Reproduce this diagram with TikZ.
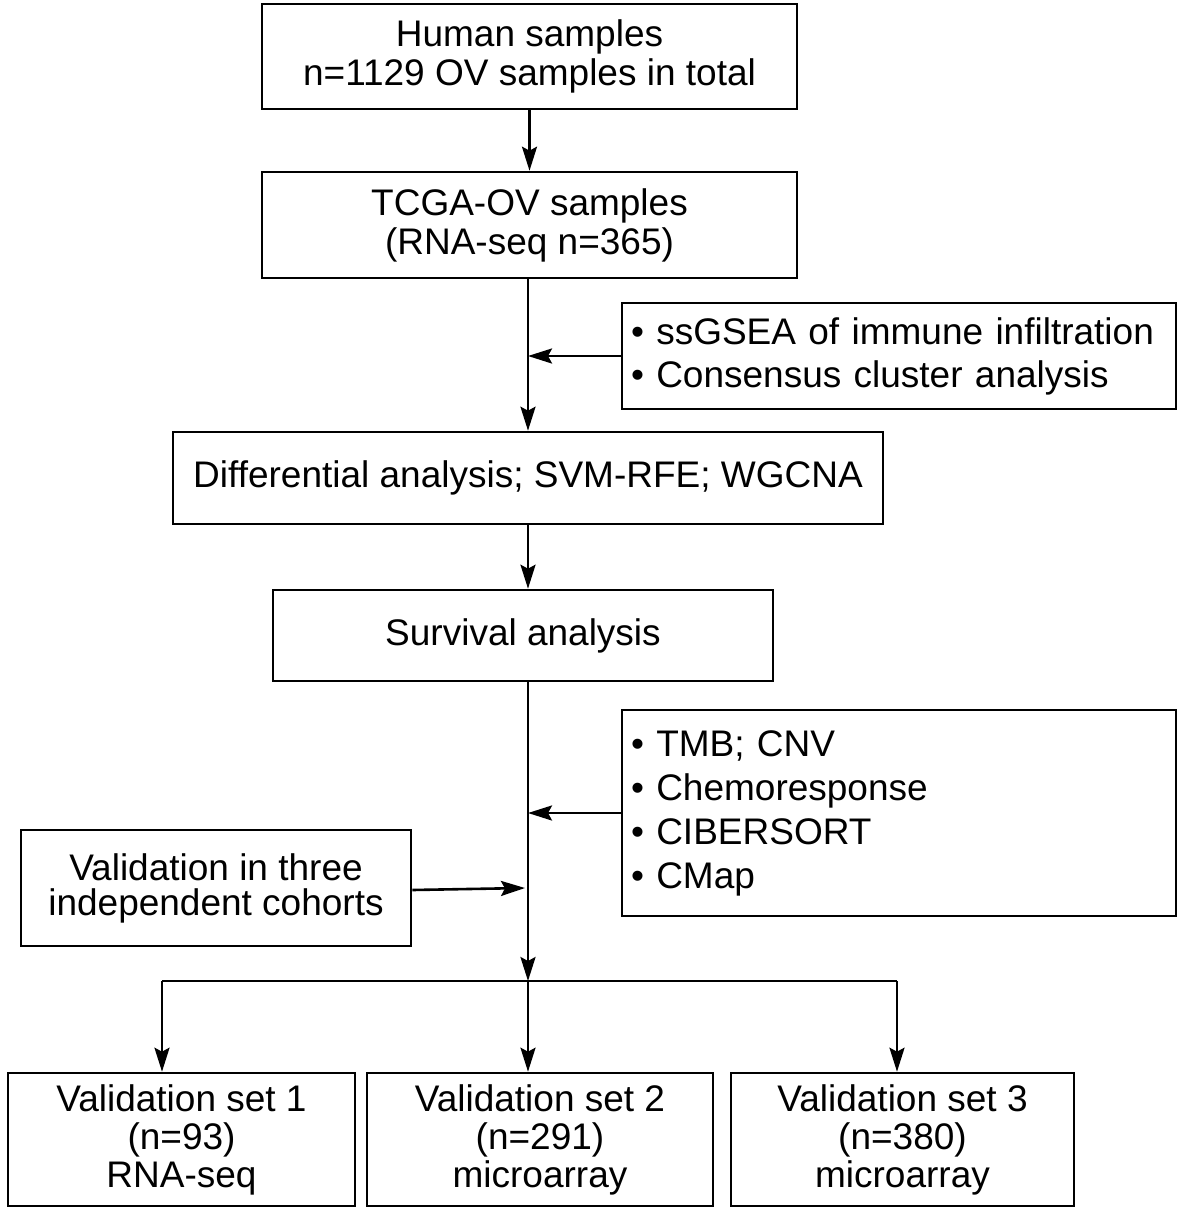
\documentclass[tikz,border=0pt]{standalone}
\usepackage{fontspec}
\setmainfont{Liberation Sans}
\usetikzlibrary{arrows.meta}
\begin{document}
\begin{tikzpicture}[x=1pt,y=-1pt,
 box/.style={draw, line width=2.6pt, inner sep=0pt, align=center, font=\fontsize{37}{39}\selectfont},
 lbox/.style={draw, line width=2.6pt, inner ysep=0pt, inner xsep=9pt, align=left},
 arr/.style={line width=2.6pt, -{Stealth[length=24pt,width=15pt,inset=4pt]}},
 ln/.style={line width=2.6pt}]
\useasboundingbox (0,0) rectangle (1181,1210);
\node[box, minimum width=535pt, minimum height=105pt] (b1) at (529.5,56.5) {Human samples\\n=1129 OV samples in total};
\node[box, minimum width=535pt, minimum height=106pt] (b2) at (529.5,225) {TCGA-OV samples\\(RNA-seq n=365)};
\node[lbox, minimum height=106pt, text width=536pt, font=\fontsize{37}{43}\selectfont] (b3) at (899,356) {\textbullet\ ssGSEA of immune infiltration\\\textbullet\ Consensus cluster analysis};
\node[box, minimum width=710pt, minimum height=92pt] (b4) at (528,478) {Differential analysis; SVM-RFE; WGCNA};
\node[box, minimum width=500pt, minimum height=91pt] (b5) at (523,635.5) {Survival analysis};
\node[lbox, minimum height=206pt, text width=536pt, font=\fontsize{37}{44}\selectfont] (b6) at (899,813) {\textbullet\ TMB; CNV\\\textbullet\ Chemoresponse\\\textbullet\ CIBERSORT\\\textbullet\ CMap};
\node[box, minimum width=390pt, minimum height=116pt, font=\fontsize{37}{35}\selectfont] (b7) at (216,888) {Validation in three\\independent cohorts};
\node[box, minimum width=347pt, minimum height=133pt, font=\fontsize{37}{38}\selectfont] (b8) at (181.5,1139.5) {Validation set 1\\(n=93)\\RNA-seq};
\node[box, minimum width=346pt, minimum height=133pt, font=\fontsize{37}{38}\selectfont] (b9) at (540,1139.5) {Validation set 2\\(n=291)\\microarray};
\node[box, minimum width=343pt, minimum height=133pt, font=\fontsize{37}{38}\selectfont] (b10) at (902.5,1139.5) {Validation set 3\\(n=380)\\microarray};
\coordinate (j) at (528,981);
\coordinate (jl) at (162,981);
\coordinate (jr) at (897,981);
\draw[arr] (b1.south) -- (b2.north);
\draw[arr] (b2.south -| j) -- (b4.north -| j);
\draw[arr] (b3.west) -- (b3.west -| j);
\draw[arr] (b4.south -| j) -- (b5.north -| j);
\draw[arr] (b5.south -| j) -- (j);
\draw[arr] (b6.west) -- (b6.west -| j);
\draw[arr] ([yshift=-2pt]b7.east) -- ([xshift=-3pt]b7.east -| j);
\draw[ln] (jl) -- (jr);
\draw[arr] (jl) -- (jl |- b8.north);
\draw[arr] (j) -- (j |- b9.north);
\draw[arr] (jr) -- (jr |- b10.north);
\end{tikzpicture}
\end{document}
